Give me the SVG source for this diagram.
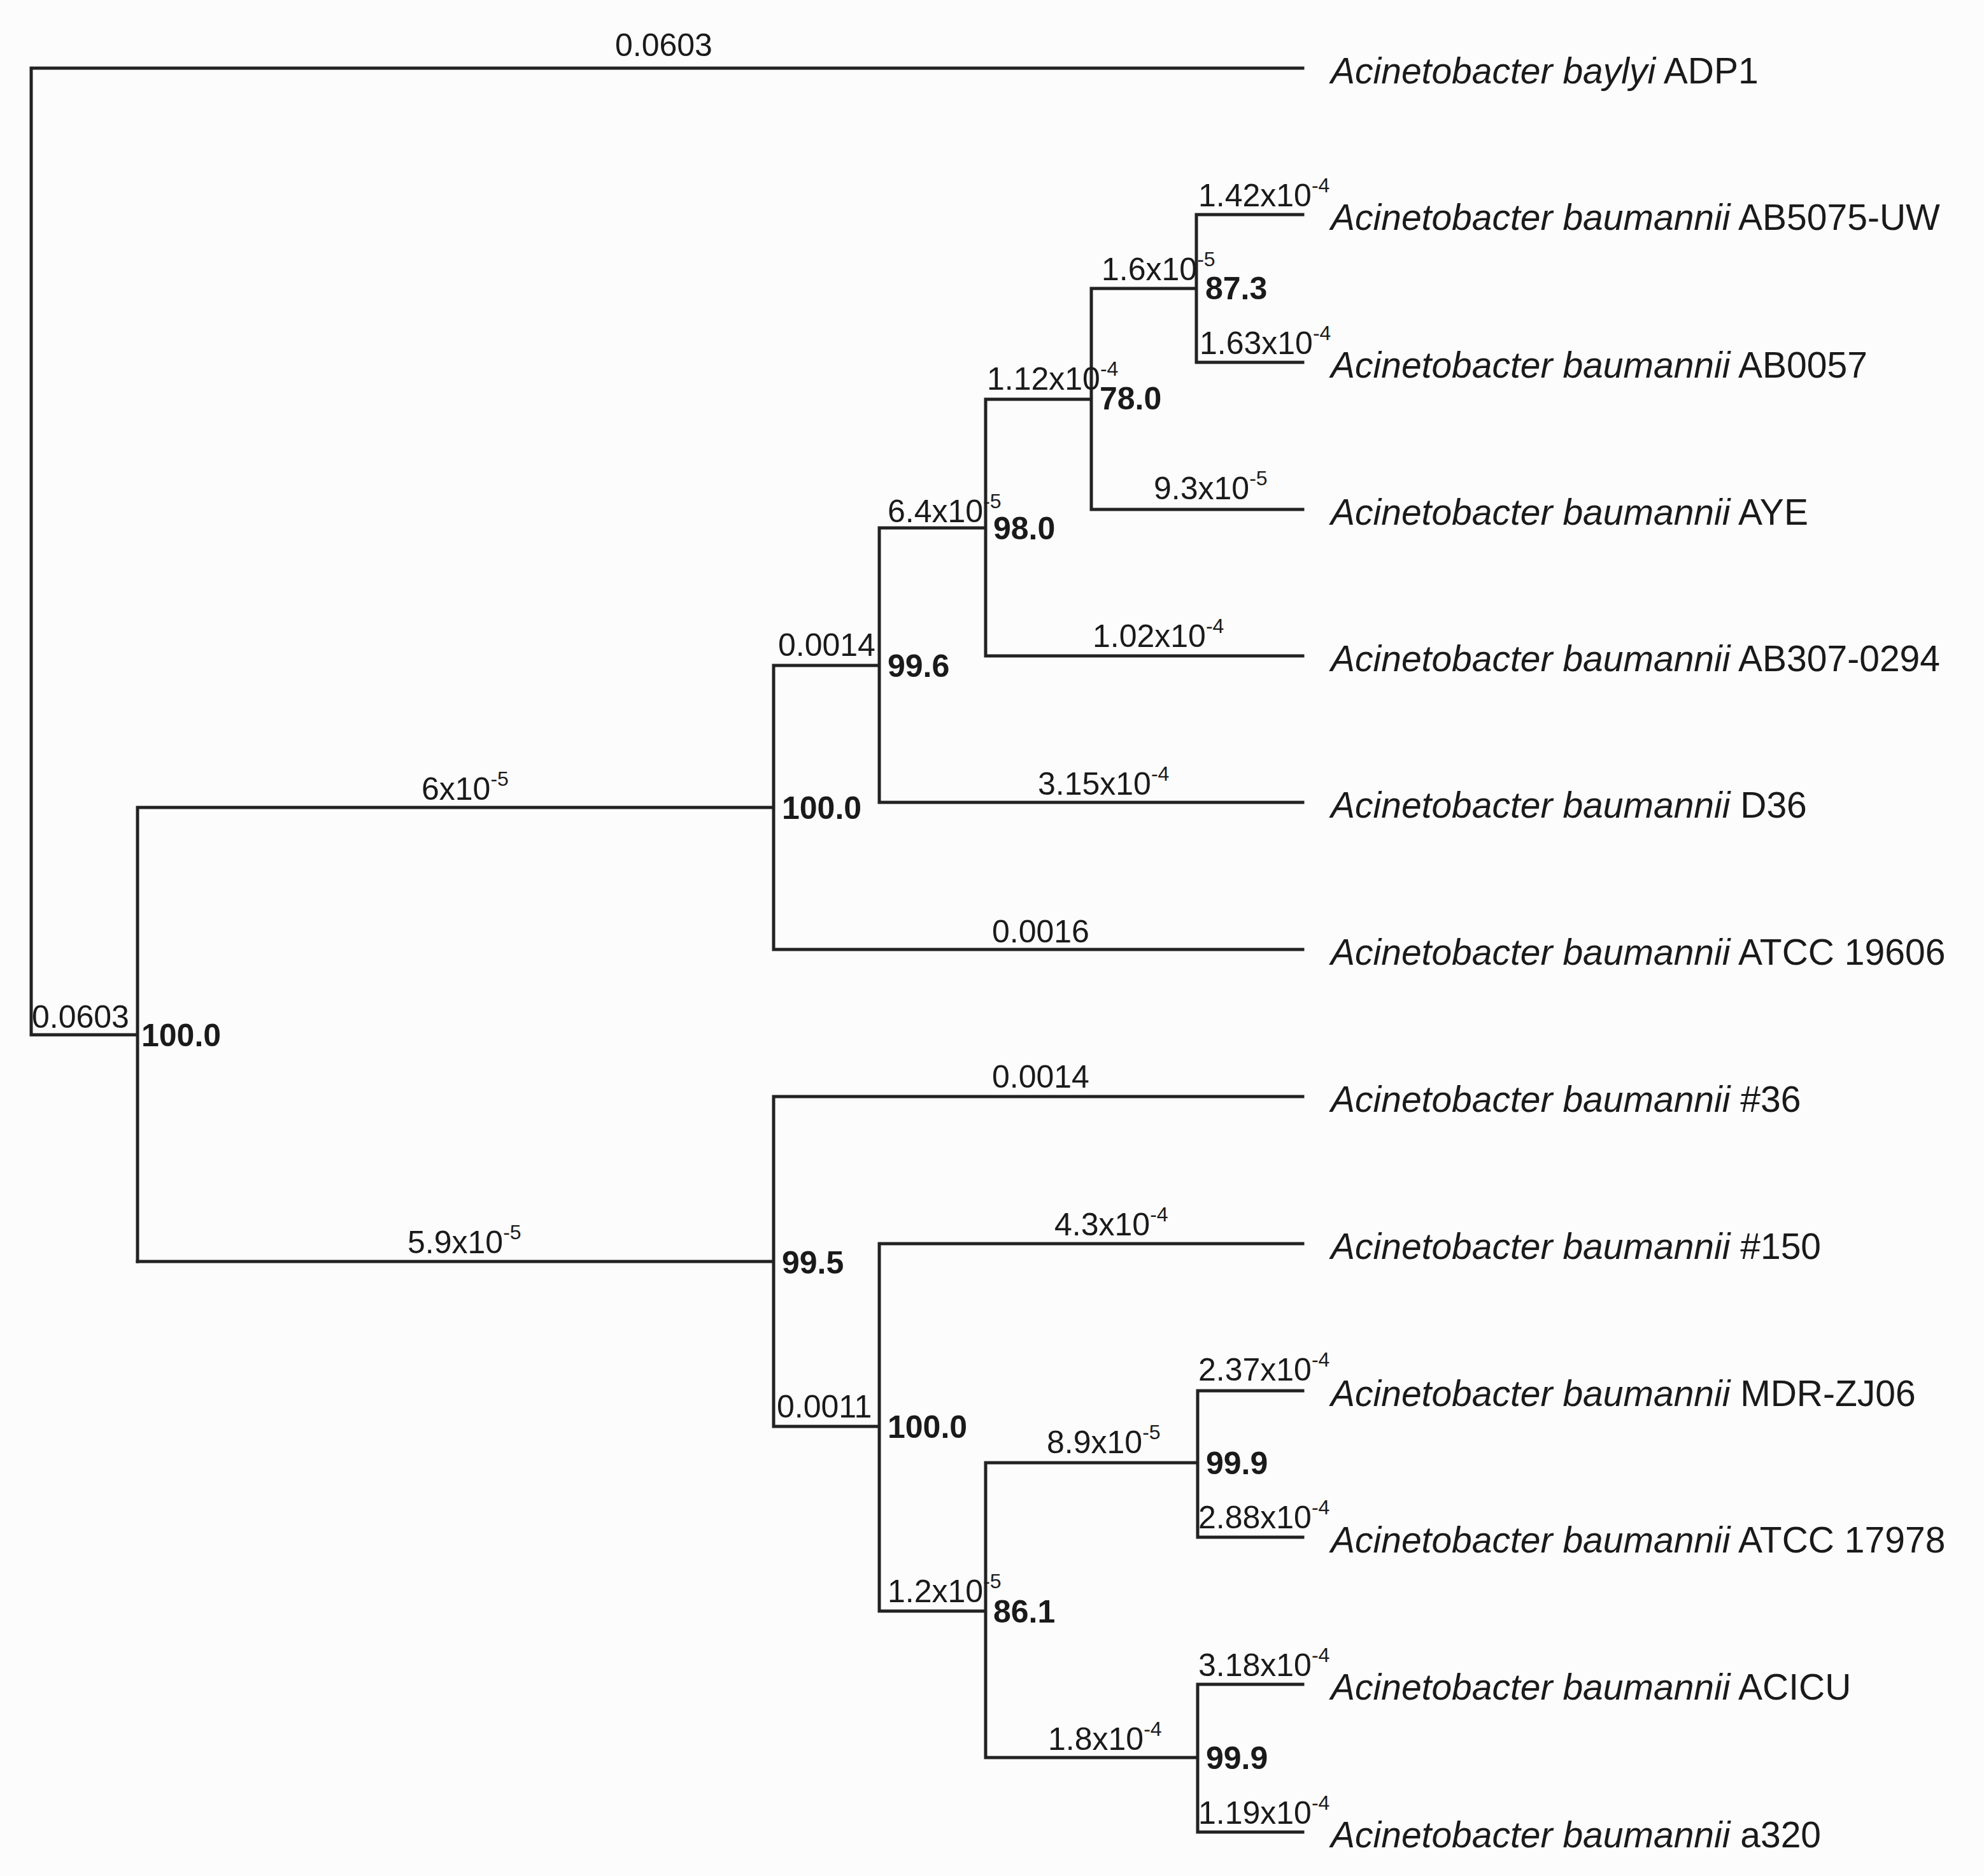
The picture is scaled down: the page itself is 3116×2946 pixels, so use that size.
<svg xmlns="http://www.w3.org/2000/svg" width="3116" height="2946" viewBox="0 0 3116 2946">
<style>
.e{fill:none;stroke:#222;stroke-width:5;stroke-linecap:square}
.b{font-family:"Liberation Sans",Arial,sans-serif;font-size:50px;fill:#1a1a1a}
.s{font-size:32px}
.bs{font-family:"Liberation Sans",Arial,sans-serif;font-size:50px;font-weight:bold;fill:#1a1a1a}
.l{font-family:"Liberation Sans",Arial,sans-serif;font-size:57px;fill:#1a1a1a}
.i{font-style:italic}
</style>
<rect width="3116" height="2946" fill="#fcfcfc"/>
<g id="connectors">
<path class="e" d="M49,107 V1625 M49,107 H2046 M49,1625 H216 M216,1268 V1981 M216,1268 H1215 M1215,1045 V1491 M1215,1045 H1381 M1215,1491 H2046 M1381,829 V1260 M1381,829 H1548 M1381,1260 H2046 M1548,627 V1030 M1548,627 H1714 M1548,1030 H2046 M1714,453 V800 M1714,453 H1879 M1714,800 H2046 M1879,337 V569 M1879,337 H2046 M1879,569 H2046"/>
<path class="e" d="M216,1981 H1215 M1215,1722 V2240 M1215,1722 H2046 M1215,2240 H1381 M1381,1953 V2530 M1381,1953 H2046 M1381,2530 H1548 M1548,2297 V2760 M1548,2297 H1881 M1548,2760 H1881 M1881,2184 V2414 M1881,2184 H2046 M1881,2414 H2046 M1881,2645 V2877 M1881,2645 H2046 M1881,2877 H2046"/>
</g>
<g id="branch-labels">
<text class="b" x="966" y="88">0.0603</text>
<text class="b" x="1882" y="324">1.42x10<tspan class="s" dy="-22">-4</tspan></text>
<text class="b" x="1730" y="440">1.6x10<tspan class="s" dy="-22">-5</tspan></text>
<text class="b" x="1884" y="556">1.63x10<tspan class="s" dy="-22">-4</tspan></text>
<text class="b" x="1550" y="612">1.12x10<tspan class="s" dy="-22">-4</tspan></text>
<text class="b" x="1812" y="784">9.3x10<tspan class="s" dy="-22">-5</tspan></text>
<text class="b" x="1394" y="820">6.4x10<tspan class="s" dy="-22">-5</tspan></text>
<text class="b" x="1716" y="1016">1.02x10<tspan class="s" dy="-22">-4</tspan></text>
<text class="b" x="1222" y="1030">0.0014</text>
<text class="b" x="1630" y="1248">3.15x10<tspan class="s" dy="-22">-4</tspan></text>
<text class="b" x="662" y="1256">6x10<tspan class="s" dy="-22">-5</tspan></text>
<text class="b" x="1558" y="1480">0.0016</text>
<text class="b" x="50" y="1614">0.0603</text>
<text class="b" x="1558" y="1708">0.0014</text>
<text class="b" x="1656" y="1940">4.3x10<tspan class="s" dy="-22">-4</tspan></text>
<text class="b" x="640" y="1968">5.9x10<tspan class="s" dy="-22">-5</tspan></text>
<text class="b" x="1220" y="2226">0.0011</text>
<text class="b" x="1882" y="2168">2.37x10<tspan class="s" dy="-22">-4</tspan></text>
<text class="b" x="1644" y="2282">8.9x10<tspan class="s" dy="-22">-5</tspan></text>
<text class="b" x="1882" y="2400">2.88x10<tspan class="s" dy="-22">-4</tspan></text>
<text class="b" x="1394" y="2516">1.2x10<tspan class="s" dy="-22">-5</tspan></text>
<text class="b" x="1882" y="2632">3.18x10<tspan class="s" dy="-22">-4</tspan></text>
<text class="b" x="1646" y="2748">1.8x10<tspan class="s" dy="-22">-4</tspan></text>
<text class="b" x="1882" y="2864">1.19x10<tspan class="s" dy="-22">-4</tspan></text>
</g>
<g id="support-labels">
<text class="bs" x="1893" y="470">87.3</text>
<text class="bs" x="1727" y="643">78.0</text>
<text class="bs" x="1560" y="847">98.0</text>
<text class="bs" x="1394" y="1063">99.6</text>
<text class="bs" x="1228" y="1286">100.0</text>
<text class="bs" x="222" y="1643">100.0</text>
<text class="bs" x="1228" y="2000">99.5</text>
<text class="bs" x="1394" y="2258">100.0</text>
<text class="bs" x="1560" y="2548">86.1</text>
<text class="bs" x="1894" y="2315">99.9</text>
<text class="bs" x="1894" y="2778">99.9</text>
</g>
<g id="leaves">
<text class="l" x="2090" y="131"><tspan class="i">Acinetobacter baylyi</tspan> ADP1</text>
<text class="l" x="2090" y="361"><tspan class="i">Acinetobacter baumannii</tspan> AB5075-UW</text>
<text class="l" x="2090" y="593"><tspan class="i">Acinetobacter baumannii</tspan> AB0057</text>
<text class="l" x="2090" y="824"><tspan class="i">Acinetobacter baumannii</tspan> AYE</text>
<text class="l" x="2090" y="1054"><tspan class="i">Acinetobacter baumannii</tspan> AB307-0294</text>
<text class="l" x="2090" y="1284"><tspan class="i">Acinetobacter baumannii</tspan> D36</text>
<text class="l" x="2090" y="1515"><tspan class="i">Acinetobacter baumannii</tspan> ATCC 19606</text>
<text class="l" x="2090" y="1746"><tspan class="i">Acinetobacter baumannii</tspan> #36</text>
<text class="l" x="2090" y="1977"><tspan class="i">Acinetobacter baumannii</tspan> #150</text>
<text class="l" x="2090" y="2208"><tspan class="i">Acinetobacter baumannii</tspan> MDR-ZJ06</text>
<text class="l" x="2090" y="2438"><tspan class="i">Acinetobacter baumannii</tspan> ATCC 17978</text>
<text class="l" x="2090" y="2669"><tspan class="i">Acinetobacter baumannii</tspan> ACICU</text>
<text class="l" x="2090" y="2901"><tspan class="i">Acinetobacter baumannii</tspan> a320</text>
</g>
</svg>
